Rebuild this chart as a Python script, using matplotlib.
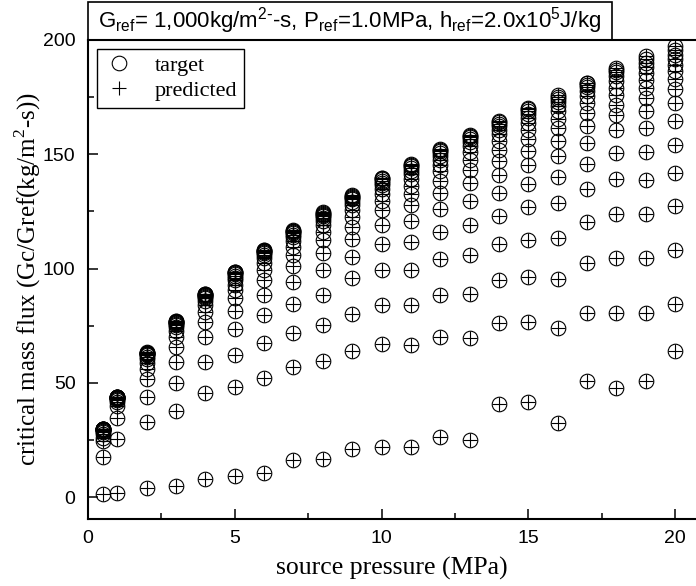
import matplotlib
matplotlib.use("Agg")
import matplotlib.pyplot as plt
from matplotlib.patches import Rectangle
from matplotlib.ticker import MultipleLocator
import numpy as np

# source pressure (MPa) of each column of points
pressure = [0.5, 1, 2, 3, 4, 5, 6, 7, 8, 9, 10,
            11, 12, 13, 14, 15, 16, 17, 18, 19, 20]

# critical mass flux (Gc/Gref), low to high
flux_p00_5 = [1.3, 17.6, 24.5, 26, 27.5, 28.5, 29, 29.3, 29.5, 29.6, 29.7, 29.8, 29.9, 30, 30, 30]
flux_p01 = [1.8, 25.4, 34.6, 39.8, 41.5, 42.5, 43, 43.2, 43.4, 43.5, 43.6, 43.7, 43.8, 43.8, 43.9, 43.9]
flux_p02 = [4, 32.8, 43.8, 51.6, 56, 58.6, 60.3, 61.3, 62, 62.4, 62.7, 62.9, 63, 63.1, 63.2, 63.3]
flux_p03 = [5, 37.6, 49.9, 59, 65.6, 70, 72.6, 74.2, 75.2, 75.8, 76.2, 76.5, 76.7, 76.8, 76.9, 77]
flux_p04 = [7.9, 45.5, 59, 70, 76.6, 81, 84, 85.8, 86.9, 87.6, 88.1, 88.4, 88.6, 88.8, 88.9, 89]
flux_p05 = [9.2, 48.1, 62, 73.5, 81.5, 87, 90.5, 93, 94.8, 96, 96.9, 97.5, 98, 98.3, 98.5, 98.7]
flux_p06 = [10.4, 52, 67.4, 79.6, 88.4, 95, 99.5, 102.5, 104.5, 105.8, 106.6, 107.1, 107.5, 107.8, 108, 108.2]
flux_p07 = [16.2, 57, 71.8, 84.5, 94, 101, 106, 109.4, 112, 113.7, 114.8, 115.5, 116, 116.3, 116.6, 116.8]
flux_p08 = [16.6, 59.5, 75.3, 88.4, 99.3, 107, 112.5, 116.2, 119, 120.8, 122, 123, 123.6, 124, 124.4, 124.7]
flux_p09 = [21, 64, 80, 96, 105, 113, 118, 122.5, 125.6, 127.8, 129.3, 130.3, 131, 131.5, 131.8, 132]
flux_p10 = [21.8, 67, 84, 99.3, 110.7, 119, 125.6, 129.5, 132.5, 134.8, 136.4, 137.6, 138.4, 139, 139.4, 139.7]
flux_p11 = [22, 66.5, 84, 99.3, 111.6, 120.8, 128, 132.5, 136, 139, 141.2, 142.8, 144, 144.8, 145.4, 145.8]
flux_p12 = [26.3, 70, 88.4, 104, 116, 126, 133, 138.5, 142.5, 145.5, 147.7, 149.3, 150.5, 151.4, 152, 152.5]
flux_p13 = [25, 69.6, 88.8, 106, 119, 129.5, 137.4, 143, 147.5, 151, 153.5, 155.3, 156.6, 157.5, 158.1, 158.5]
flux_p14 = [40.7, 76, 95, 110.7, 123, 133, 141, 147, 152, 155.8, 158.7, 160.8, 162.3, 163.4, 164.1, 164.6]
flux_p15 = [41.6, 76.6, 96.3, 112.5, 127, 137, 145.3, 151.5, 156.5, 160.5, 163.5, 165.8, 167.6, 168.9, 169.8, 170.4]
flux_p16 = [32.4, 74, 95.4, 113.4, 128.7, 140, 149.2, 156, 161.5, 165.6, 168.8, 171.2, 173, 174.3, 175.2, 175.8]
flux_p17 = [51, 80.5, 102.4, 120.4, 134.8, 145.7, 155, 162.5, 168, 172.3, 175.6, 177.9, 179.4, 180.4, 181, 181.4]
flux_p18 = [47.7, 80.7, 104.6, 123.9, 139, 150.5, 160.6, 167, 171.6, 175.9, 179, 182, 184.3, 186, 187, 187.7]
flux_p19 = [51, 80.7, 104.6, 123.9, 138.7, 151, 161.5, 169, 174.6, 179, 182.5, 185.5, 188, 190, 191.7, 193]
flux_p20 = [64, 84.5, 108, 127.5, 142, 154, 164.5, 172.5, 178.5, 183, 186.5, 189, 191.5, 193.5, 195.5, 197.5]

target_columns = [flux_p00_5, flux_p01, flux_p02, flux_p03, flux_p04, flux_p05,
                  flux_p06, flux_p07, flux_p08, flux_p09, flux_p10, flux_p11,
                  flux_p12, flux_p13, flux_p14, flux_p15, flux_p16, flux_p17,
                  flux_p18, flux_p19, flux_p20]
# predictions sit on top of the targets in the figure
predicted_columns = target_columns

x_target = np.repeat(pressure, [len(c) for c in target_columns])
y_target = np.concatenate(target_columns)
x_pred = np.repeat(pressure, [len(c) for c in predicted_columns])
y_pred = np.concatenate(predicted_columns)

serif = "Liberation Serif"
sans = "Liberation Sans"
plt.rcParams["font.family"] = sans

fig = plt.figure(figsize=(6.96, 5.86), dpi=100)
ax = fig.add_axes([88 / 696, 67 / 586, 608 / 696, 479 / 586])

ax.plot(x_target, y_target, linestyle="none", marker="o", ms=10.5,
        mfc="none", mec="black", mew=0.8, label="target")
ax.plot(x_pred, y_pred, linestyle="none", marker="+", ms=10.5,
        color="black", mew=0.8, label="predicted")

ax.set_xlim(0, 608 / 29.35)
ax.set_ylim(-9.6, 200)
ax.xaxis.set_major_locator(MultipleLocator(5))
ax.xaxis.set_minor_locator(MultipleLocator(2.5))
ax.yaxis.set_major_locator(MultipleLocator(50))
ax.yaxis.set_minor_locator(MultipleLocator(25))
ax.tick_params(which="both", direction="in", width=1.1, labelsize=14)
ax.tick_params(which="major", length=7)
ax.tick_params(which="minor", length=4)
ax.tick_params(axis="y", pad=9)
ax.tick_params(axis="x", pad=8)
for side in ["left", "bottom", "top"]:
    ax.spines[side].set_linewidth(1.5)
ax.spines["right"].set_visible(False)

ax.set_xlabel("source pressure (MPa)", family=serif, fontsize=18.5, labelpad=7)
ax.set_ylabel(r"critical mass flux (Gc/Gref(kg/m$^\mathregular{2}$-s))",
              family=serif, fontsize=18, labelpad=0)

leg = ax.legend(loc="upper left", prop={"family": serif, "size": 16},
                fancybox=False, edgecolor="black", framealpha=1,
                borderaxespad=0.4, handlelength=1.4, handletextpad=0.9,
                borderpad=0.3, labelspacing=0.2)
leg.get_frame().set_linewidth(1.0)

# reference conditions box sitting on top of the axes
box_w = 524 / 608
box_h = 38 / 479
ax.add_patch(Rectangle((0, 1), box_w, box_h, transform=ax.transAxes,
                       facecolor="white", edgecolor="black", lw=1.2, clip_on=False))
ax.text(box_w / 2, 1 + box_h / 2,
        r"G$_\mathregular{ref}$= 1,000kg/m$^\mathregular{2\text{-}}$-s, P$_\mathregular{ref}$=1.0MPa, "
        r"h$_\mathregular{ref}$=2.0x10$^\mathregular{5}$J/kg",
        transform=ax.transAxes, ha="center", va="center", fontsize=16, family=sans)

fig.savefig("out.png", dpi=100)
plt.close(fig)
